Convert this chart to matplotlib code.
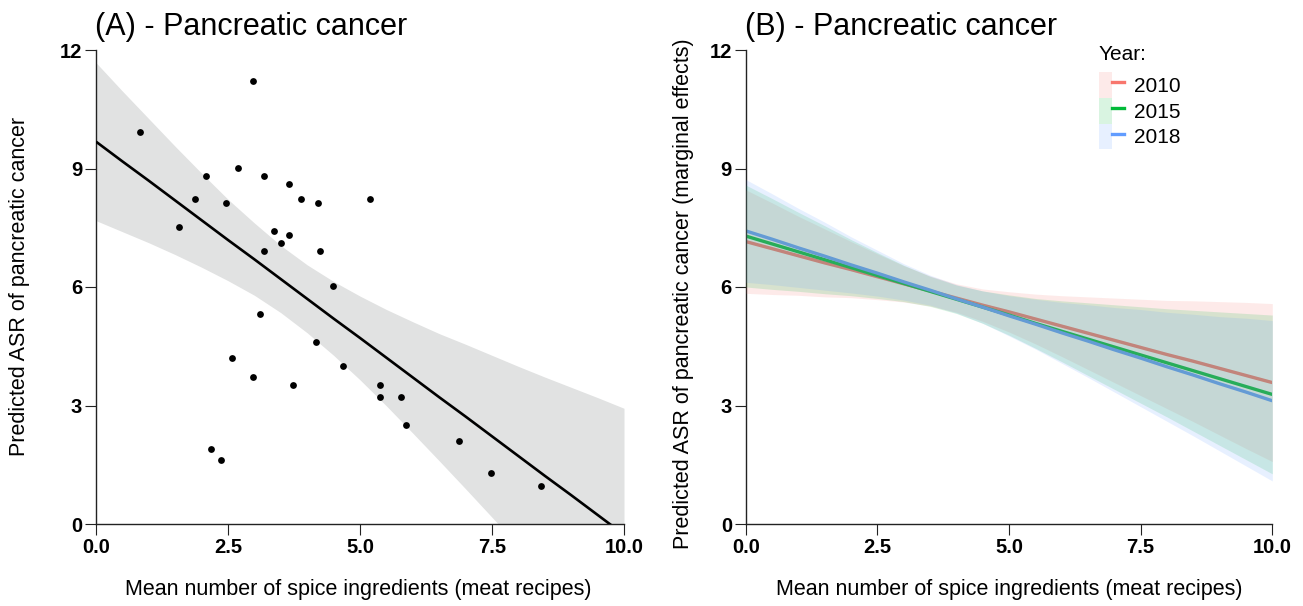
import matplotlib
matplotlib.use('Agg')
import matplotlib.pyplot as plt
from matplotlib.patches import Patch
from matplotlib.lines import Line2D
from matplotlib.legend_handler import HandlerTuple
import numpy as np

plt.rcParams['font.family'] = ['Liberation Sans', 'DejaVu Sans']

# ---------------- Panel A data ----------------
spice_x = [0.84, 2.97, 2.08, 2.68, 3.18, 3.65, 3.88, 4.20, 5.18, 1.875, 2.47, 1.57,
           3.38, 3.66, 3.50, 3.18, 4.25, 4.48, 3.11, 4.17, 2.58, 4.67, 2.97, 3.73,
           5.38, 5.38, 5.77, 5.87, 2.18, 2.37, 6.875, 7.48, 8.43]
asr_y = [9.92, 11.22, 8.82, 9.02, 8.82, 8.62, 8.22, 8.12, 8.22, 8.22, 8.12, 7.52,
         7.42, 7.32, 7.11, 6.92, 6.92, 6.02, 5.31, 4.61, 4.21, 4.01, 3.71, 3.51,
         3.51, 3.22, 3.22, 2.51, 1.91, 1.62, 2.11, 1.30, 0.95]

grid_x = [0.0, 0.5, 1.0, 1.5, 2.0, 2.5, 3.0, 3.5, 4.0, 4.5, 5.0,
          5.5, 6.0, 6.5, 7.0, 7.5, 8.0, 8.5, 9.0, 9.5, 10.0]
fit_y = [9.68, 9.18, 8.69, 8.19, 7.69, 7.19, 6.70, 6.20, 5.70, 5.20, 4.71,
         4.21, 3.71, 3.21, 2.72, 2.22, 1.72, 1.22, 0.73, 0.23, -0.27]
fit_hi = [11.68, 10.96, 10.26, 9.56, 8.88, 8.22, 7.62, 7.05, 6.56, 6.14, 5.77,
          5.43, 5.12, 4.82, 4.55, 4.27, 3.99, 3.72, 3.46, 3.20, 2.93]
fit_lo = [7.68, 7.40, 7.12, 6.82, 6.50, 6.16, 5.79, 5.35, 4.84, 4.27, 3.65,
          2.99, 2.30, 1.60, 0.89, 0.17, -0.55, -1.28, -2.00, -2.74, -3.47]

# ---------------- Panel B data (marginal effects) ----------------
years = ['2010', '2015', '2018']
year_colors = ['#F8766D', '#00BA38', '#619CFF']
me_2010 = [7.15, 6.97, 6.79, 6.61, 6.44, 6.26, 6.08, 5.90, 5.72, 5.54, 5.37,
           5.19, 5.01, 4.83, 4.65, 4.47, 4.29, 4.12, 3.94, 3.76, 3.58]
me_2015 = [7.29, 7.09, 6.89, 6.69, 6.49, 6.29, 6.09, 5.89, 5.69, 5.49, 5.29,
           5.08, 4.88, 4.68, 4.48, 4.28, 4.08, 3.88, 3.68, 3.48, 3.28]
me_2018 = [7.42, 7.21, 6.99, 6.78, 6.56, 6.35, 6.13, 5.92, 5.70, 5.49, 5.27,
           5.06, 4.84, 4.63, 4.41, 4.20, 3.98, 3.77, 3.55, 3.34, 3.12]
hw_2010 = [1.31, 1.16, 1.00, 0.86, 0.71, 0.58, 0.46, 0.38, 0.36, 0.41, 0.51,
           0.63, 0.77, 0.92, 1.07, 1.22, 1.37, 1.53, 1.69, 1.85, 2.00]
hw_2015 = [1.29, 1.15, 1.00, 0.86, 0.71, 0.58, 0.46, 0.38, 0.36, 0.41, 0.51,
           0.63, 0.77, 0.92, 1.07, 1.22, 1.37, 1.53, 1.69, 1.85, 2.01]
hw_2018 = [1.30, 1.15, 1.00, 0.86, 0.71, 0.58, 0.46, 0.38, 0.36, 0.41, 0.51,
           0.63, 0.77, 0.92, 1.07, 1.23, 1.38, 1.54, 1.70, 1.87, 2.03]
me_fits = [me_2010, me_2015, me_2018]
me_hws = [hw_2010, hw_2015, hw_2018]

x_ticks = [0, 2.5, 5, 7.5, 10]
x_tick_labels = ['0.0', '2.5', '5.0', '7.5', '10.0']
y_ticks = [0, 3, 6, 9, 12]
y_tick_labels = ['0', '3', '6', '9', '12']

W, H = 1303, 606
fig = plt.figure(figsize=(W / 100, H / 100), dpi=100)
fig.patch.set_facecolor('white')

def px_axes(left, right, top, bottom):
    return fig.add_axes([left / W, 1 - bottom / H, (right - left) / W, (bottom - top) / H])

axA = px_axes(96, 624, 50, 524)
axB = px_axes(745.8, 1272.3, 50, 524)

axis_col = '#222222'
for ax in (axA, axB):
    ax.set_xlim(0, 10)
    ax.set_ylim(0, 12)
    ax.spines['top'].set_visible(False)
    ax.spines['right'].set_visible(False)
    for s in ('left', 'bottom'):
        ax.spines[s].set_linewidth(1.0)
        ax.spines[s].set_color(axis_col)
    ax.set_xticks(x_ticks)
    ax.set_xticklabels(x_tick_labels)
    ax.set_yticks(y_ticks)
    ax.set_yticklabels(y_tick_labels)
    ax.tick_params(axis='both', length=8, width=0.8, color=axis_col, pad=2,
                   labelsize=14.5, labelcolor='black')
    for lab in ax.get_xticklabels() + ax.get_yticklabels():
        lab.set_fontweight('bold')
    ax.set_facecolor('white')

# Panel A
axA.fill_between(grid_x, fit_lo, fit_hi, color='#e1e2e2', linewidth=0, zorder=1)
axA.plot(grid_x, fit_y, color='black', linewidth=1.9, zorder=3, solid_capstyle='butt')
axA.scatter(spice_x, asr_y, s=24, color='black', zorder=4, linewidths=0)

# Panel B: lines then ribbons on top
for fit, col in zip(me_fits, year_colors):
    axB.plot(grid_x, fit, color=col, linewidth=2.4, zorder=2, solid_capstyle='butt')
for fit, hw, col in zip(me_fits, me_hws, year_colors):
    lo = np.array(fit) - np.array(hw)
    hi = np.array(fit) + np.array(hw)
    axB.fill_between(grid_x, lo, hi, color=col, alpha=0.15, linewidth=0, zorder=3)

# Titles
fig.text(95 / W, 1 - 35 / H, '(A) - Pancreatic cancer', fontsize=22,
         ha='left', va='baseline')
fig.text(745 / W, 1 - 35 / H, '(B) - Pancreatic cancer', fontsize=22,
         ha='left', va='baseline')

# Axis labels
xlab = 'Mean number of spice ingredients (meat recipes)'
fig.text(358 / W, 1 - 590 / H, xlab, fontsize=15.5, ha='center', va='center')
fig.text(1009 / W, 1 - 590 / H, xlab, fontsize=15.5, ha='center', va='center')
fig.text(20 / W, 1 - 286 / H, 'Predicted ASR of pancreatic cancer', fontsize=15.5,
         rotation=90, ha='center', va='center')
fig.text(683 / W, 1 - 294 / H, 'Predicted ASR of pancreatic cancer (marginal effects)',
         fontsize=15.5, rotation=90, ha='center', va='center')

# Legend
fig.text(1099 / W, 1 - 60 / H, 'Year:', fontsize=15, ha='left', va='baseline')
handles = [(Patch(facecolor=c, alpha=0.15, edgecolor='none'),
            Line2D([], [], color=c, linewidth=2.4)) for c in year_colors]
leg = axB.legend(handles, years, loc='upper left',
                 bbox_to_anchor=(1099 / W, 1 - 72 / H), bbox_transform=fig.transFigure,
                 frameon=False, fontsize=15,
                 handlelength=1.2, handleheight=1.53, labelspacing=0.0,
                 handletextpad=0.5, borderpad=0, borderaxespad=0,
                 handler_map={tuple: HandlerTuple(ndivide=None, pad=0)})

fig.savefig('out.png', dpi=100, facecolor='white')
